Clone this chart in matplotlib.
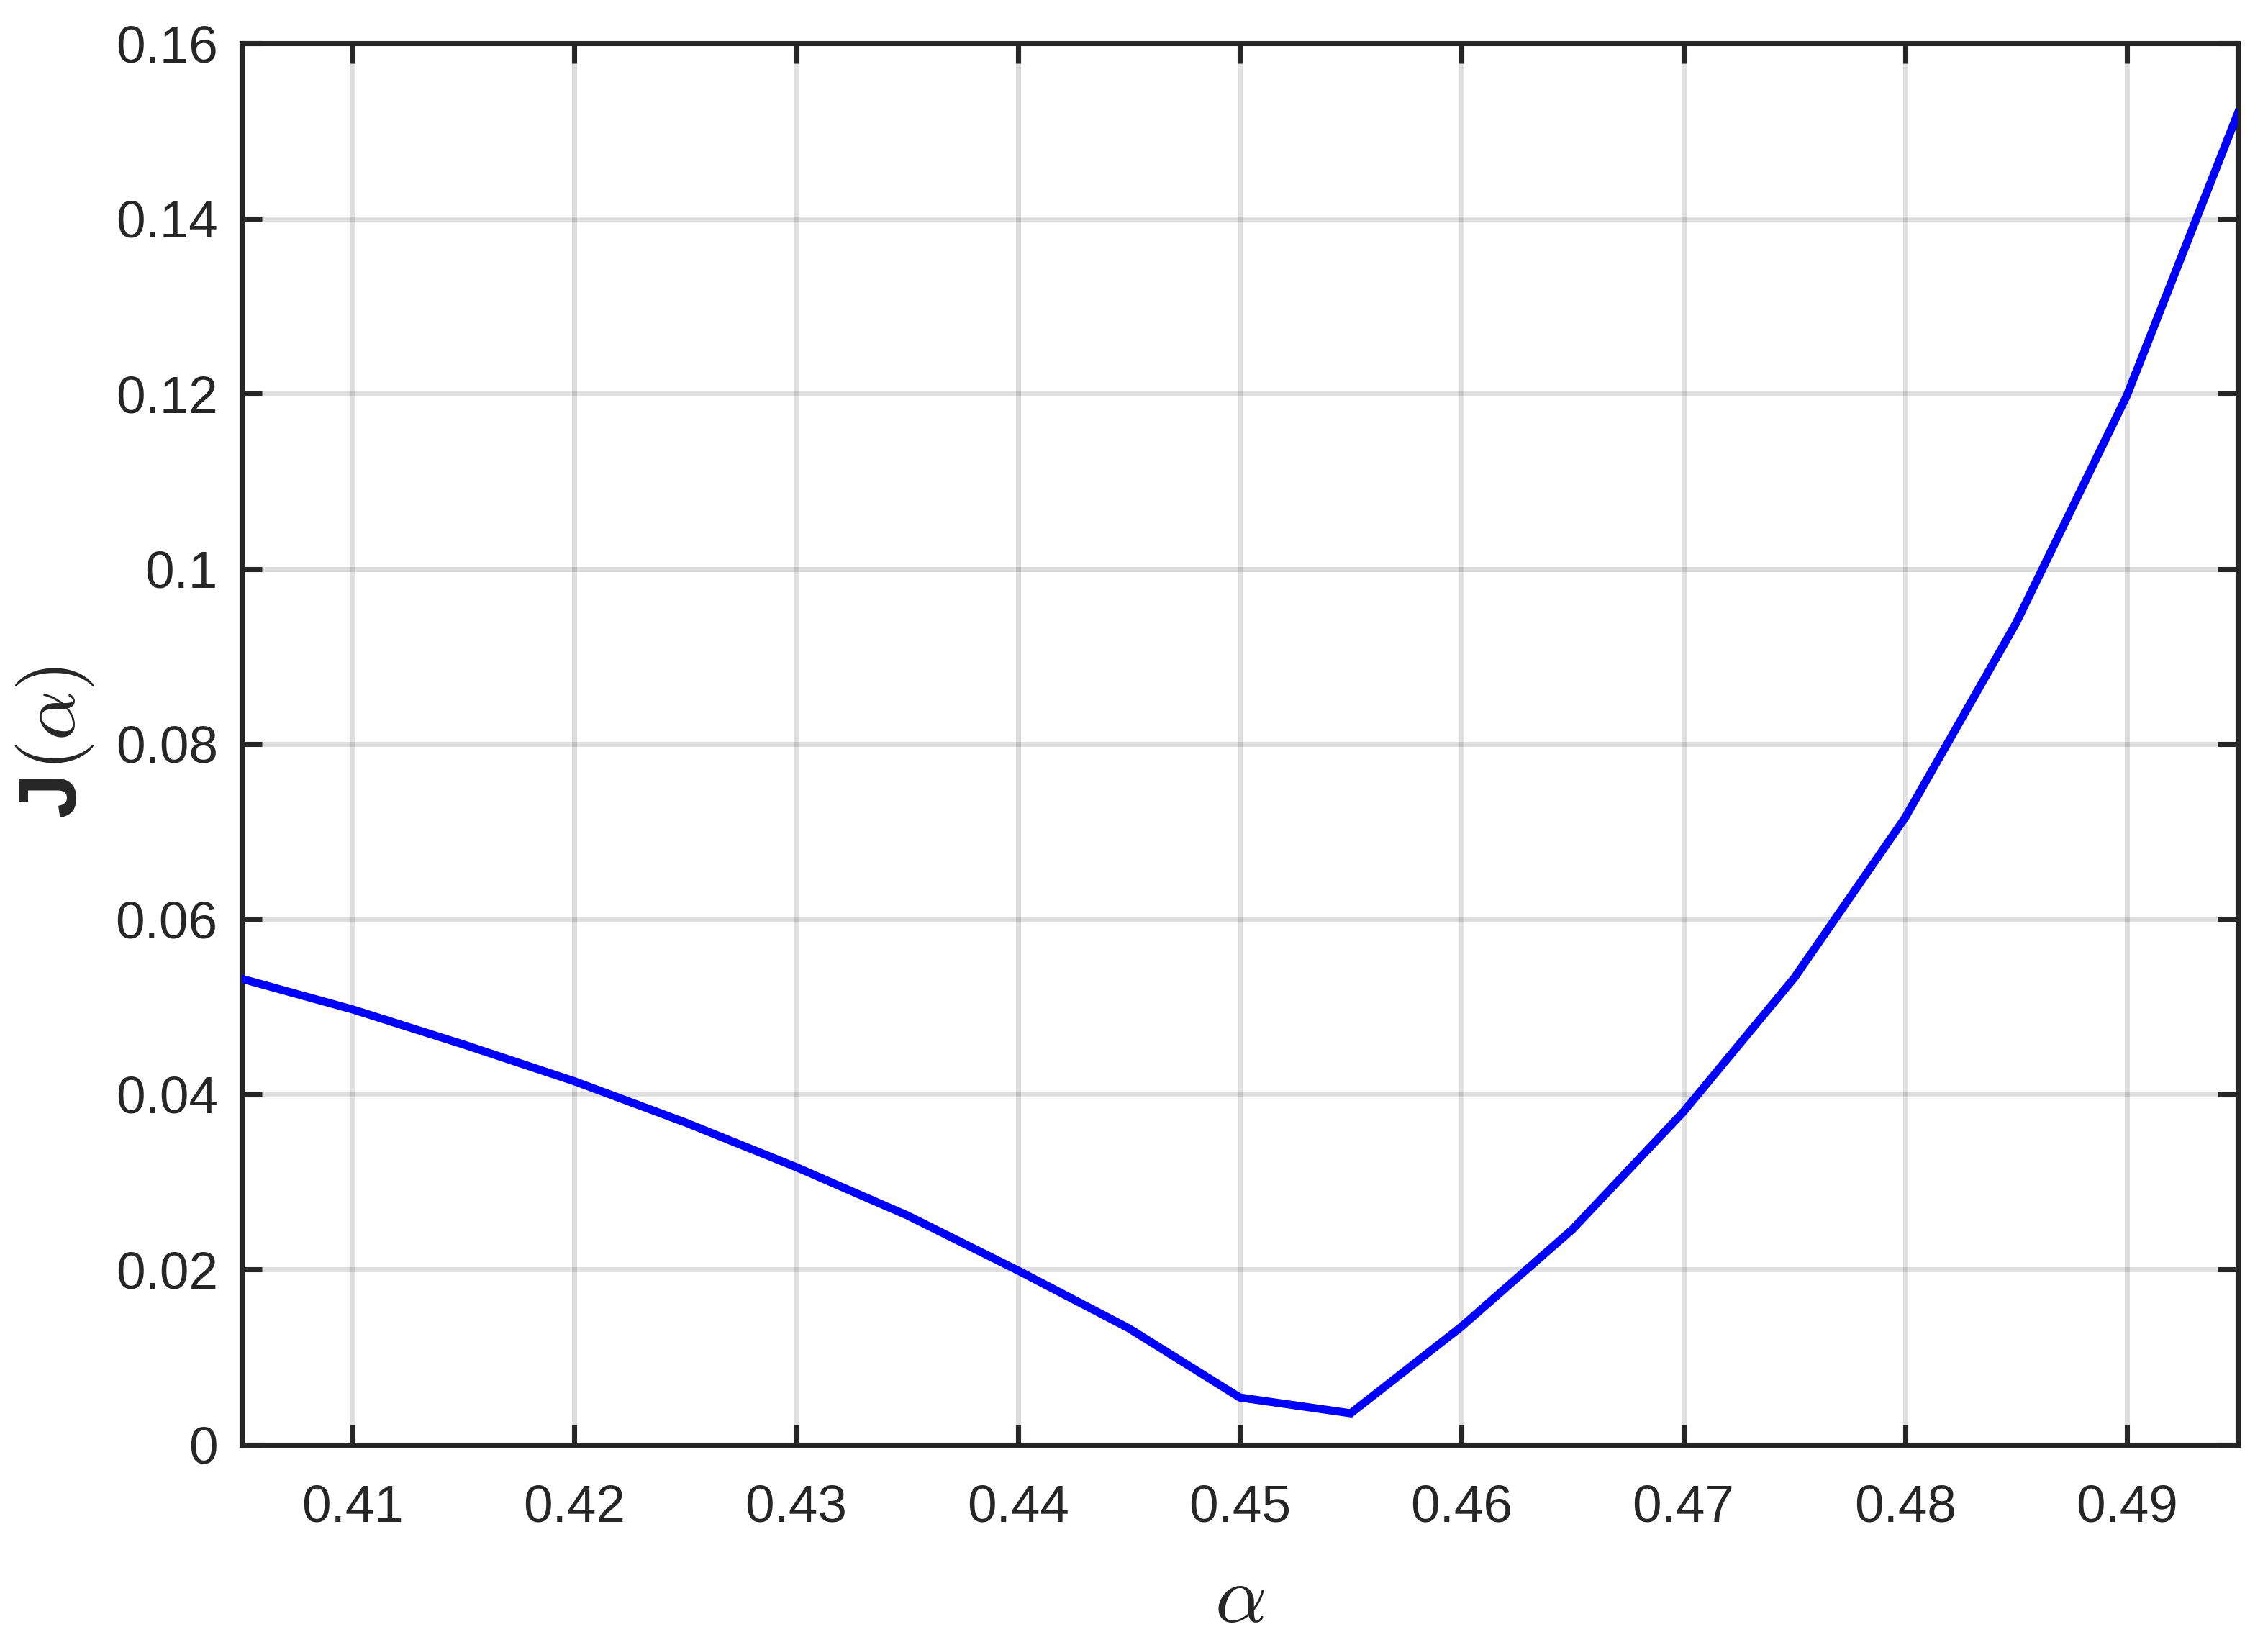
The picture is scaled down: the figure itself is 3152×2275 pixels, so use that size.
import matplotlib
matplotlib.use("Agg")
import matplotlib.pyplot as plt

plt.rcParams['font.family'] = ['Liberation Sans', 'DejaVu Sans']
plt.rcParams['mathtext.fontset'] = 'cm'

alpha_vals = [0.405, 0.41, 0.415, 0.42, 0.425, 0.43, 0.435, 0.44, 0.445, 0.45,
              0.455, 0.46, 0.465, 0.47, 0.475, 0.48, 0.485, 0.49, 0.495]
J_vals = [0.0532, 0.0497, 0.0457, 0.0415, 0.0368, 0.0317, 0.0262, 0.0199, 0.0133, 0.0054,
          0.0036, 0.0135, 0.0246, 0.0380, 0.0533, 0.0716, 0.0938, 0.1198, 0.1520]
x_ticks = [0.41, 0.42, 0.43, 0.44, 0.45, 0.46, 0.47, 0.48, 0.49]
x_ticklabels = ['0.41', '0.42', '0.43', '0.44', '0.45', '0.46', '0.47', '0.48', '0.49']
y_ticks = [0, 0.02, 0.04, 0.06, 0.08, 0.1, 0.12, 0.14, 0.16]
y_ticklabels = ['0', '0.02', '0.04', '0.06', '0.08', '0.1', '0.12', '0.14', '0.16']

axis_color = '#262626'

fig = plt.figure(figsize=(3152/300, 2275/300), dpi=300)
ax = fig.add_axes([0.1066, 0.1174, 0.8801, 0.8562])

ax.plot(alpha_vals, J_vals, color='#0000ff', linewidth=2.7, zorder=3,
        solid_joinstyle='miter')

ax.set_xlim(0.405, 0.495)
ax.set_ylim(0, 0.16)
ax.set_xticks(x_ticks)
ax.set_xticklabels(x_ticklabels)
ax.set_yticks(y_ticks)
ax.set_yticklabels(y_ticklabels)

ax.grid(True, color='black', alpha=0.125, linewidth=1.7, zorder=0)
ax.set_axisbelow(True)

for sp in ax.spines.values():
    sp.set_color(axis_color)
    sp.set_linewidth(1.7)

ax.tick_params(axis='both', which='major', direction='in', length=6.7, width=1.7,
               color=axis_color, labelcolor=axis_color, labelsize=17.5,
               top=True, right=True)
ax.tick_params(axis='x', pad=13.2)
ax.tick_params(axis='y', pad=8)

ax.set_xlabel(r'$\alpha$', fontsize=27, color=axis_color, labelpad=10)

# y label: sans-serif bold "J" followed by LaTeX-style "(alpha)"
tJ = fig.text(0.033, 0.5007, 'J', rotation=90, rotation_mode='anchor',
              ha='left', va='baseline', fontsize=27.5, fontweight='bold',
              family=['Liberation Sans', 'DejaVu Sans'], color=axis_color)
fig.canvas.draw()
renderer = fig.canvas.get_renderer()
bb = tJ.get_window_extent(renderer)
y_next = (bb.y1 + 1) / fig.bbox.height
fig.text(0.033, y_next, r'$(\alpha)$', rotation=90, rotation_mode='anchor',
         ha='left', va='baseline', fontsize=26, color=axis_color)

fig.savefig('out.png', dpi=300, facecolor='white')
